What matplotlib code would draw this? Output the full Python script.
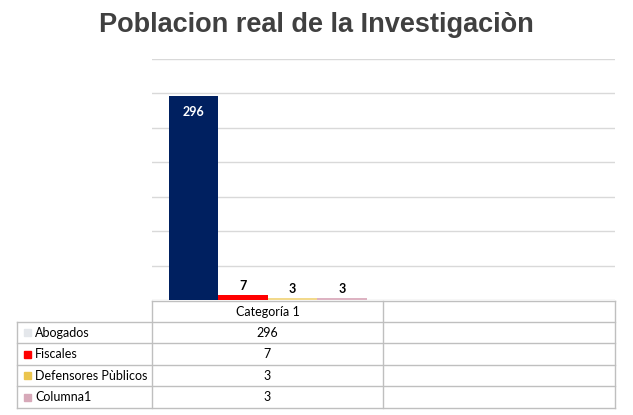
import matplotlib
matplotlib.use("Agg")
import matplotlib.pyplot as plt
from matplotlib.patches import Rectangle

title = "Poblacion real de la Investigaciòn"
categories = ["Categoría 1", ""]
series = ["Abogados", "Fiscales", "Defensores Pùblicos", "Columna1"]
values = [296, 7, 3, 3]
bar_colors = ["#002060", "#FF0000", "#F2D98C", "#DDB3C2"]
key_colors = ["#E4E7EB", "#FF0000", "#EBC54E", "#D7A9B9"]

W, H = 633, 415
fig = plt.figure(figsize=(W / 100, H / 100), dpi=100)

def px(x0, y0, x1, y1):
    return [x0 / W, 1 - y1 / H, (x1 - x0) / W, (y1 - y0) / H]

ax = fig.add_axes(px(152, 59, 615, 300))
n = len(series)
width = 0.857 / n
for i, (name, v, c) in enumerate(zip(series, values, bar_colors)):
    x = 0 + (i - (n - 1) / 2) * width
    ax.bar(x, v, width=width, color=c, zorder=2)
    if v > 50:
        ax.text(x, v - 14, str(v), ha="center", va="top", color="white",
                fontsize=9, fontweight="bold", family="Lato")
    else:
        ax.text(x, v + 4, str(v), ha="center", va="bottom", color="black",
                fontsize=9, fontweight="bold", family="Lato")
ax.set_xlim(-0.5, 1.5)
ax.set_ylim(0, 350)
ax.set_yticks(range(0, 351, 50))
ax.yaxis.grid(True, color="#D9D9D9", linewidth=1)
ax.set_axisbelow(True)
ax.tick_params(left=False, bottom=False, labelleft=False, labelbottom=False)
for s in ax.spines.values():
    s.set_visible(False)

fig.text(0.5, 1 - 25 / H, title, ha="center", va="center", fontsize=19.5,
         fontweight="bold", color="#404040", family="Liberation Sans")

# data table under the plot
tab = fig.add_axes([0, 0, 1, 1], zorder=3)
tab.set_xlim(0, W)
tab.set_ylim(H, 0)
tab.axis("off")
grid_c = "#BFBFBF"
cols = [152, 383, 615]
rows = [301, 322, 343, 365, 386, 408]
tab.plot([152, 615], [rows[0]] * 2, color=grid_c, lw=1)
for y in rows[1:]:
    tab.plot([17, 615], [y, y], color=grid_c, lw=1)
for x in cols:
    tab.plot([x, x], [rows[0], rows[-1]], color=grid_c, lw=1)
tab.plot([17, 17], [rows[1], rows[-1]], color=grid_c, lw=1)
for j, cat in enumerate(categories):
    tab.text((cols[j] + cols[j + 1]) / 2, (rows[0] + rows[1]) / 2, cat,
             ha="center", va="center", fontsize=9, family="Lato")
for i, (name, v, kc) in enumerate(zip(series, values, key_colors)):
    yc = (rows[i + 1] + rows[i + 2]) / 2
    tab.add_patch(Rectangle((24, yc - 3.5), 7, 7, color=kc))
    tab.text(35, yc, name, ha="left", va="center", fontsize=9, family="Lato")
    tab.text((cols[0] + cols[1]) / 2, yc, str(v), ha="center", va="center",
             fontsize=9, family="Lato")

fig.savefig("out.png", dpi=100)
